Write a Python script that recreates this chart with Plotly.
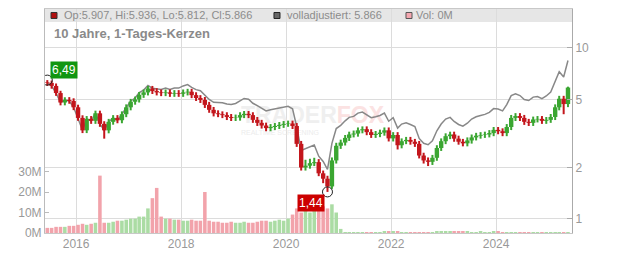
import math
import pandas as pd
import plotly.graph_objects as go

# ---------------- data (monthly candles) ----------------
dates = pd.date_range("2015-06-01", periods=120, freq="MS") + pd.Timedelta(days=14)

opens = [6.30, 6.25, 6.00, 5.45, 4.80, 4.97, 4.90, 4.50, 3.90, 3.30,
         3.85, 3.75, 4.15, 3.60, 3.30, 3.70, 3.90, 3.78, 4.10, 4.50,
         4.85, 5.00, 5.32, 5.50, 5.80, 5.60, 5.50, 5.45, 5.50, 5.40,
         5.45, 5.40, 5.50, 5.55, 5.30, 5.10, 4.97, 4.65, 4.35, 4.15,
         4.10, 4.05, 3.95, 3.90, 3.92, 4.05, 4.12, 4.05, 3.80, 3.65,
         3.52, 3.40, 3.45, 3.50, 3.55, 3.60, 3.62, 3.50, 2.75, 2.00,
         2.05, 2.12, 2.15, 1.85, 1.72, 1.55, 2.20, 2.68, 2.80, 2.98,
         3.12, 3.16, 3.30, 3.35, 3.22, 3.10, 3.14, 3.20, 3.30, 2.96,
         3.10, 2.70, 2.85, 2.90, 2.83, 2.75, 2.35, 2.20, 2.16, 2.28,
         2.60, 2.85, 3.05, 3.12, 2.95, 2.83, 2.77, 2.88, 3.00, 3.07,
         3.10, 3.12, 3.18, 3.32, 3.26, 3.18, 3.45, 3.90, 4.00, 3.90,
         3.70, 3.65, 3.82, 3.85, 3.75, 3.80, 3.95, 4.50, 5.05, 4.70]

highs = [6.49, 6.45, 6.20, 5.62, 5.15, 5.16, 5.08, 4.66, 4.04, 4.00,
         4.00, 4.30, 4.30, 3.73, 3.85, 4.05, 4.05, 4.26, 4.68, 5.04,
         5.20, 5.53, 5.72, 6.00, 6.00, 5.82, 5.72, 5.72, 5.72, 5.67,
         5.67, 5.72, 5.77, 5.77, 5.51, 5.30, 5.17, 4.84, 4.52, 4.32,
         4.26, 4.21, 4.11, 4.08, 4.21, 4.28, 4.28, 4.21, 3.95, 3.80,
         3.66, 3.59, 3.64, 3.69, 3.74, 3.76, 3.76, 3.64, 2.86, 2.22,
         2.25, 2.28, 2.24, 1.92, 1.79, 2.29, 2.79, 2.91, 3.10, 3.24,
         3.29, 3.43, 3.48, 3.48, 3.35, 3.27, 3.33, 3.43, 3.43, 3.22,
         3.22, 2.96, 3.02, 3.02, 2.94, 2.86, 2.44, 2.29, 2.37, 2.70,
         2.96, 3.17, 3.24, 3.24, 3.07, 2.94, 3.00, 3.12, 3.19, 3.22,
         3.24, 3.31, 3.45, 3.45, 3.39, 3.59, 4.06, 4.16, 4.16, 4.06,
         3.85, 3.97, 4.00, 4.00, 3.95, 4.11, 4.68, 5.25, 5.25, 5.94]

lows = [6.00, 5.78, 5.25, 4.62, 4.62, 4.72, 4.33, 3.75, 3.18, 3.18,
        3.60, 3.60, 3.46, 2.95, 3.17, 3.56, 3.63, 3.63, 3.94, 4.32,
        4.66, 4.80, 5.11, 5.28, 5.38, 5.28, 5.23, 5.23, 5.18, 5.18,
        5.18, 5.18, 5.28, 5.09, 4.90, 4.77, 4.46, 4.18, 3.98, 3.94,
        3.89, 3.79, 3.74, 3.74, 3.76, 3.89, 3.89, 3.65, 3.50, 3.38,
        3.26, 3.26, 3.31, 3.36, 3.41, 3.46, 3.36, 2.64, 1.92, 1.92,
        1.97, 2.04, 1.78, 1.62, 1.44, 1.50, 2.11, 2.57, 2.69, 2.86,
        3.00, 3.03, 3.17, 3.09, 2.98, 2.98, 3.01, 3.07, 2.84, 2.84,
        2.55, 2.59, 2.74, 2.72, 2.64, 2.26, 2.11, 2.04, 2.07, 2.19,
        2.50, 2.74, 2.93, 2.83, 2.72, 2.66, 2.66, 2.76, 2.88, 2.95,
        2.98, 3.00, 3.05, 3.13, 3.05, 3.05, 3.31, 3.74, 3.74, 3.55,
        3.50, 3.50, 3.67, 3.60, 3.60, 3.65, 3.79, 4.32, 4.10, 4.51]

closes = [6.25, 6.00, 5.45, 4.80, 4.97, 4.90, 4.50, 3.90, 3.30, 3.85,
          3.75, 4.15, 3.60, 3.30, 3.70, 3.90, 3.78, 4.10, 4.50, 4.85,
          5.00, 5.32, 5.50, 5.80, 5.60, 5.50, 5.45, 5.50, 5.40, 5.45,
          5.40, 5.50, 5.55, 5.30, 5.10, 4.97, 4.65, 4.35, 4.15, 4.10,
          4.05, 3.95, 3.90, 3.92, 4.05, 4.12, 4.05, 3.80, 3.65, 3.52,
          3.40, 3.45, 3.50, 3.55, 3.60, 3.62, 3.50, 2.75, 2.00, 2.05,
          2.12, 2.15, 1.85, 1.72, 1.55, 2.20, 2.68, 2.80, 2.98, 3.12,
          3.16, 3.30, 3.35, 3.22, 3.10, 3.14, 3.20, 3.30, 2.96, 3.10,
          2.70, 2.85, 2.90, 2.83, 2.75, 2.35, 2.20, 2.16, 2.28, 2.60,
          2.85, 3.05, 3.12, 2.95, 2.83, 2.77, 2.88, 3.00, 3.07, 3.10,
          3.12, 3.18, 3.32, 3.26, 3.18, 3.45, 3.90, 4.00, 3.90, 3.70,
          3.65, 3.82, 3.85, 3.75, 3.80, 3.95, 4.50, 5.05, 4.70, 5.87]

adjusted = [6.25, 6.00, 5.45, 4.80, 4.97, 4.90, 4.50, 3.90, 3.30, 3.85,
            3.75, 4.15, 3.60, 3.30, 3.70, 3.90, 3.78, 4.10, 4.50, 4.90,
            5.10, 5.48, 5.67, 6.03, 5.82, 5.78, 5.72, 5.83, 5.72, 5.83,
            5.83, 6.00, 6.11, 5.88, 5.71, 5.62, 5.30, 5.00, 4.81, 4.80,
            4.78, 4.70, 4.68, 4.74, 4.94, 5.07, 5.02, 4.75, 4.60, 4.44,
            4.28, 4.35, 4.41, 4.47, 4.54, 4.56, 4.41, 3.47, 2.52, 2.58,
            2.67, 2.71, 2.33, 2.17, 1.95, 2.77, 3.38, 3.53, 3.75, 3.93,
            3.98, 4.16, 4.22, 4.06, 3.91, 3.96, 4.03, 4.16, 3.73, 3.91,
            3.40, 3.59, 3.65, 3.57, 3.47, 2.96, 2.77, 2.72, 2.87, 3.28,
            3.59, 3.84, 3.93, 3.72, 3.57, 3.49, 3.63, 3.84, 3.96, 4.03,
            4.09, 4.20, 4.42, 4.40, 4.29, 4.66, 5.27, 5.40, 5.27, 5.00,
            4.93, 5.16, 5.20, 5.06, 5.24, 5.53, 6.39, 7.27, 6.77, 8.45]

volume_m = [2.5, 2.5, 3, 3, 3, 3.5, 3.5, 4, 4.5, 4,
            4.5, 5, 28, 5, 5, 5.5, 6, 6, 6.5, 7,
            7, 8, 8, 12, 17, 22, 8, 7, 7, 6.5,
            6.5, 6, 6, 6.5, 6, 6, 20, 6, 5.5, 5.5,
            5, 5, 5.5, 5, 5, 5.5, 5, 5, 5.5, 6,
            6, 5.5, 6, 6.5, 6, 7, 9, 12, 10, 11,
            10, 12, 11, 13, 12, 14, 10, 2, 0.3, 0.2,
            0.2, 0.3, 0.2, 0.2, 0.3, 0.2, 0.3, 0.8, 0.6, 0.9,
            0.5, 0.3, 0.2, 0.2, 0.2, 0.2, 0.2, 0.2, 0.3, 0.5,
            0.6, 0.8, 0.7, 0.8, 0.6, 0.7, 0.5, 0.4, 0.3, 0.5,
            0.2, 0.2, 0.6, 0.5, 0.4, 0.2, 0.2, 0.2, 0.1, 0.1,
            0.2, 0.1, 0.1, 0.1, 0.1, 0.1, 0.1, 0.1, 0.1, 0.1]

year_ticks = ["2016-01-01", "2018-01-01", "2020-01-01", "2022-01-01", "2024-01-01"]
year_labels = ["2016", "2018", "2020", "2022", "2024"]
price_ticks = [1, 2, 5, 10]
vol_ticks = [0, 10, 20, 30]
vol_labels = ["0M", "10M", "20M", "30M"]

hi_idx, hi_val, hi_text = 0, 6.49, "6,49"
lo_idx, lo_val, lo_text = 64, 1.44, "1,44"

legend_ohlc = "Op:5.907, Hi:5.936, Lo:5.812, Cl:5.866"
legend_adj = "volladjustiert: 5.866"
legend_vol = "Vol: 0M"
title_text = "10 Jahre, 1-Tages-Kerzen"

# ---------------- styles ----------------
FONT = "Liberation Sans, Arial, sans-serif"
RED = "#c3161c"
GREEN = "#3aa631"
VOL_RED = "#f2a3ab"
VOL_GREEN = "#abdca4"
GRID = "#dcdcdc"
TXT = "#999999"

fig = go.Figure()

# watermark (behind everything, on the base axis)
fig.add_trace(go.Scatter(x=["2019-02-21"], y=[56.5], mode="text",
                         text=["<b>TRADER<span style='color:#fbe2e2'>FOX</span></b>"],
                         textposition="middle right", textfont=dict(size=23, color="#efefef", family=FONT),
                         hoverinfo="skip"))
fig.add_trace(go.Scatter(x=["2019-02-21"], y=[48.8], mode="text", text=["REALTIME SCREENING"],
                         textposition="middle right", textfont=dict(size=7, color="#ececec", family=FONT),
                         hoverinfo="skip"))

# volume bars
vol_colors = [VOL_GREEN if c >= o else VOL_RED for o, c in zip(opens, closes)]
fig.add_trace(go.Bar(x=dates, y=volume_m, marker=dict(color=vol_colors, line=dict(width=0)),
                     yaxis="y", hoverinfo="skip"))

# adjusted line
fig.add_trace(go.Scatter(x=dates, y=adjusted, mode="lines", line=dict(color="#888888", width=1.5),
                         yaxis="y2", hoverinfo="skip"))


def segments(indices, a, b):
    xs, ys = [], []
    for i in indices:
        xs += [dates[i], dates[i], None]
        ys += [a[i], b[i], None]
    return xs, ys


up = [i for i in range(len(closes)) if closes[i] >= opens[i]]
dn = [i for i in range(len(closes)) if closes[i] < opens[i]]

for idx, col in ((up, GREEN), (dn, RED)):
    wx, wy = segments(idx, lows, highs)
    fig.add_trace(go.Scatter(x=wx, y=wy, mode="lines", line=dict(color=col, width=2),
                             yaxis="y2", hoverinfo="skip"))
for idx, col in ((up, GREEN), (dn, RED)):
    bx, by = segments(idx, opens, closes)
    fig.add_trace(go.Scatter(x=bx, y=by, mode="lines", line=dict(color=col, width=4.4),
                             yaxis="y2", hoverinfo="skip"))

# extreme markers
fig.add_trace(go.Scatter(x=[dates[hi_idx], dates[lo_idx]], y=[hi_val, lo_val], mode="markers",
                         marker=dict(symbol="circle-open", size=10, color="#222222", line=dict(width=1)),
                         yaxis="y2", hoverinfo="skip"))

annotations = [
    dict(x=dates[hi_idx], y=math.log10(hi_val), xref="x", yref="y2", text=hi_text, showarrow=True,
         arrowcolor="rgba(0,0,0,0)", ax=17, ay=-10, bgcolor="#119611", borderpad=1,
         font=dict(color="white", size=12, family=FONT)),
    dict(x=dates[lo_idx], y=math.log10(lo_val), xref="x", yref="y2", text=lo_text, showarrow=True,
         arrowcolor="rgba(0,0,0,0)", ax=-16, ay=11, bgcolor="#cc0000", borderpad=1,
         font=dict(color="white", size=12, family=FONT)),
    dict(x=0.0133, y=0.8906, xref="paper", yref="paper", text="<b>" + title_text + "</b>",
         showarrow=False, xanchor="left", yanchor="middle", font=dict(size=13, color="#8a8a8a", family=FONT)),
    dict(x=0.0323, y=0.971, xref="paper", yref="paper", text=legend_ohlc, showarrow=False,
         xanchor="left", yanchor="middle", font=dict(size=11, color="#8c8c8c", family=FONT)),
    dict(x=0.4554, y=0.971, xref="paper", yref="paper", text=legend_adj, showarrow=False,
         xanchor="left", yanchor="middle", font=dict(size=11, color="#8c8c8c", family=FONT)),
    dict(x=0.7002, y=0.971, xref="paper", yref="paper", text=legend_vol, showarrow=False,
         xanchor="left", yanchor="middle", font=dict(size=11, color="#8c8c8c", family=FONT)),
]

shapes = [
    dict(type="rect", xref="paper", yref="paper", x0=0, x1=1, y0=0.942, y1=1,
         fillcolor="#e6e6e6", line=dict(width=0), layer="below"),
    dict(type="rect", xref="paper", yref="paper", x0=0.0114, x1=0.0228, y0=0.9576, y1=0.9844,
         fillcolor="#b01010", line=dict(color="#333333", width=1)),
    dict(type="rect", xref="paper", yref="paper", x0=0.4345, x1=0.4459, y0=0.9576, y1=0.9844,
         fillcolor="#666666", line=dict(color="#222222", width=1)),
    dict(type="rect", xref="paper", yref="paper", x0=0.6850, x1=0.6964, y0=0.9576, y1=0.9844,
         fillcolor="#f4a7b0", line=dict(color="#555555", width=1)),
]

fig.update_layout(
    width=632, height=253,
    margin=dict(l=45, r=60, t=9, b=20, pad=0, autoexpand=False),
    paper_bgcolor="white", plot_bgcolor="white",
    showlegend=False, bargap=0.12,
    font=dict(family=FONT, color=TXT, size=12),
    xaxis=dict(type="date", range=["2015-05-30", "2025-06-12"], tickvals=year_ticks, ticktext=year_labels,
               showgrid=True, gridcolor=GRID, gridwidth=1, showline=True, linecolor="#c8c8c8",
               mirror=True, ticks="", zeroline=False, automargin=False, tickfont=dict(size=12, color=TXT)),
    yaxis=dict(range=[0, 109.3], tickvals=vol_ticks, ticktext=vol_labels, showgrid=False,
               showline=True, linecolor="#bbbbbb", ticks="inside", ticklen=4, tickcolor="#bbbbbb",
               zeroline=False, automargin=False, tickfont=dict(size=12, color=TXT), fixedrange=True),
    yaxis2=dict(type="log", overlaying="y", side="right", range=[-0.0819, 1.228],
                tickvals=price_ticks, ticktext=[str(v) for v in price_ticks],
                showgrid=True, gridcolor=GRID, gridwidth=1, showline=True, linecolor="#aaaaaa",
                ticks="inside", ticklen=5, tickcolor="#aaaaaa", zeroline=False, automargin=False,
                tickfont=dict(size=12, color=TXT)),
    annotations=annotations,
    shapes=shapes,
)

fig.write_html("out.html")
